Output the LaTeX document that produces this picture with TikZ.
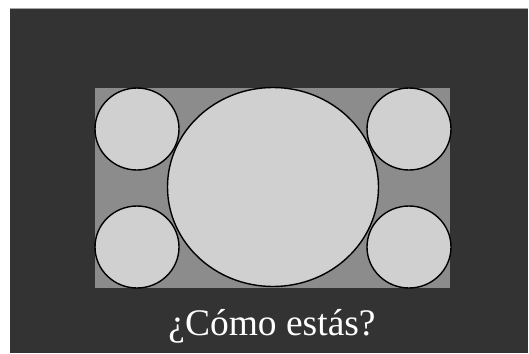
\documentclass[tikz,border=0pt]{standalone}
\usepackage{fontspec}
\setmainfont{Liberation Serif}
\usetikzlibrary{shapes.geometric}
\definecolor{bgdark}{HTML}{333333}
\definecolor{midgray}{HTML}{8C8C8C}
\definecolor{lightgray}{HTML}{D0D0D0}
\begin{document}
\begin{tikzpicture}[x=1pt,y=-1pt,
  blob/.style={ellipse,draw=black,line width=1.4pt,fill=lightgray,inner sep=0pt}]
\useasboundingbox (0,0) rectangle (529,353);
\fill[white] (0,0) rectangle (529,353);
\fill[bgdark] (10,8) rectangle (528,353);
\draw[gray!70,line width=0.6pt] (10,8.3) -- (528,8.3);
\fill[midgray] (95,88) rectangle (450,288);
\node[blob,minimum width=84pt,minimum height=82pt] (tl) at (137,129) {};
\node[blob,minimum width=84pt,minimum height=82pt] (tr) at (409,129) {};
\node[blob,minimum width=84pt,minimum height=82pt] (bl) at (137,247) {};
\node[blob,minimum width=84pt,minimum height=82pt] (br) at (409,247) {};
\node[blob,minimum width=211pt,minimum height=199pt] (big) at (273,187) {};
\node[text=white,font=\fontsize{37.5}{42}\selectfont,anchor=base] (cap) at (272,335) {¿Cómo estás?};
\end{tikzpicture}
\end{document}
